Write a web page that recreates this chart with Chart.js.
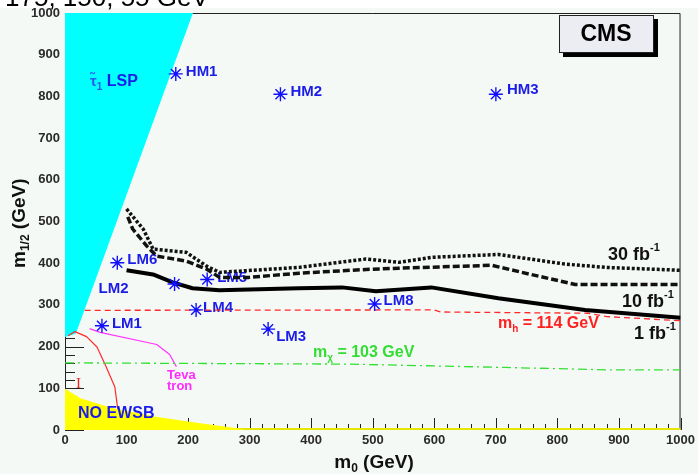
<!DOCTYPE html>
<html><head><meta charset="utf-8">
<script src="https://cdn.jsdelivr.net/npm/chart.js@4/dist/chart.umd.min.js"></script>
<style>html,body{margin:0;padding:0;background:#fff;overflow:hidden}#wrap{width:698px;height:474px;position:relative}</style>
</head><body><div id="wrap"><canvas id="c" width="698" height="474"></canvas></div>
<script>
// ---- data ----
const xTickValues = [0,100,200,300,400,500,600,700,800,900,1000];
const yTickValues = [0,100,200,300,400,500,600,700,800,900,1000];

const stauM0  = [0, 17, 207, 0];
const stauM12 = [224, 232, 1000, 1000];
const noEwsbM0  = [0, 0, 25, 75, 150, 210, 270, 290];
const noEwsbM12 = [0, 98, 75, 52, 30, 17, 5, 0];

const lumi1M0  = [100,143,175,207,251,380,450,505,595,704,845,1000];
const lumi1M12 = [383,373,354,340,335,340,342,333,342,316,288,269];
const lumi10M0  = [102,110,133,149,197,230,251,299,380,489,542,693,757,829,1000];
const lumi10M12 = [511,482,441,417,405,386,366,366,376,385,388,395,373,349,349];
const lumi30M0  = [100,127,143,197,230,251,380,489,542,595,704,812,877,1000];
const lumi30M12 = [530,482,434,426,393,378,390,410,402,414,421,398,390,383];

const higgsM0  = [32,600,610,850,880,1000];
const higgsM12 = [287,288,283,280,272,262];
const charginoM0  = [0,460,715,890,1000];
const charginoM12 = [161,158,150,144,144];
const tevatronM0  = [40,57,149,170,181];
const tevatronM12 = [243,234,205,181,152];
const lepM0  = [5,16,35,52,67,81,86,88];
const lepM12 = [226,236,224,199,151,103,47,0];

const benchNames = ['HM1','HM2','HM3','LM1','LM2','LM3','LM4','LM5','LM6','LM8'];
const benchM0    = [180,350,700,60,178,330,213,231,85,503];
const benchM12   = [854,805,805,250,350,242,288,361,401,302];

// ---- styling for labels (pixel offsets from markers) ----
const benchLabelOffset = {
  HM1:[10,-2], HM2:[10,-2], HM3:[11,-4], LM1:[10,-2], LM2:[-76,5],
  LM3:[8,8], LM4:[7,-2.5], LM5:[10,-2], LM6:[10,-3], LM8:[9,-3]
};
const FONT = '"Liberation Sans", Arial, sans-serif';

function pts(xs, ys){ return xs.map((v,i)=>({x:v, y:ys[i]})); }

function rich(ctx, x, y, parts, align){
  let total = 0;
  parts.forEach(p => { ctx.font = `${p.w||'bold'} ${p.s}px ${FONT}`; p.width = ctx.measureText(p.t).width; total += p.width; });
  if (align === 'center') x -= total/2;
  else if (align === 'right') x -= total;
  ctx.textAlign = 'left';
  parts.forEach(p => {
    ctx.font = `${p.w||'bold'} ${p.s}px ${FONT}`;
    if (p.c) ctx.fillStyle = p.c;
    ctx.fillText(p.t, x, y + (p.dy||0));
    x += p.width;
  });
}

const decor = {
  id: 'decor',
  beforeDraw(chart){
    const c = chart.ctx;
    c.save();
    c.fillStyle = '#f5f9f6'; c.fillRect(0,0,chart.width,chart.height);
    c.fillStyle = '#ffffff'; c.fillRect(0,0,chart.width,8);
    // cut-off title line at the top
    c.fillStyle = '#000'; c.font = `26px ${FONT}`; c.textBaseline = 'alphabetic'; c.textAlign='left';
    c.fillText('175, 150, 55 GeV', 5, 6);
    c.restore();
  },
  beforeDatasetsDraw(chart){
    const {ctx, chartArea:a, scales:{x, y}} = chart;
    ctx.save();
    ctx.strokeStyle = '#222'; ctx.lineWidth = 1;
    ctx.beginPath();
    for (let v = 0; v <= 1000; v += 20){
      const px = Math.round(x.getPixelForValue(v)) + 0.5;
      const len = v % 100 === 0 ? 12 : 6;
      ctx.moveTo(px, a.bottom); ctx.lineTo(px, a.bottom - len);
      const py = Math.round(y.getPixelForValue(v)) + 0.5;
      const ly = v % 100 === 0 ? 19 : 10;
      ctx.moveTo(a.left, py); ctx.lineTo(a.left + ly, py);
    }
    ctx.stroke();
    // frame
    ctx.beginPath();
    ctx.moveTo(a.left+0.5, a.bottom); ctx.lineTo(a.left+0.5, a.top+0.5);
    ctx.lineTo(a.right-0.5, a.top+0.5); ctx.lineTo(a.right-0.5, a.bottom);
    ctx.stroke();
    ctx.strokeStyle = '#e6e600'; ctx.lineWidth = 2;
    ctx.beginPath(); ctx.moveTo(a.left, a.bottom-1); ctx.lineTo(a.right, a.bottom-1); ctx.stroke();
    ctx.restore();
  },
  afterDatasetDraw(chart, args){
    if (chart.data.datasets[args.index].label !== 'NO EWSB') return;
    const {ctx, scales:{x, y}} = chart;
    ctx.save();
    ctx.textBaseline = 'middle';
    const blue = '#1c1ce8';
    benchNames.forEach((n,i) => {
      const o = benchLabelOffset[n];
      ctx.fillStyle = blue; ctx.font = `bold 15px ${FONT}`; ctx.textAlign='left';
      ctx.fillText(n, x.getPixelForValue(benchM0[i]) + o[0], y.getPixelForValue(benchM12[i]) + o[1]);
    });
    ctx.textBaseline = 'alphabetic';
    // stau LSP
    rich(ctx, 90, 86, [{t:'τ̃', s:15, c:'#2a5cf0'},{t:'1', s:10, dy:4, c:'#2a5cf0'},{t:' LSP', s:16, c:blue}]);
    // NO EWSB
    rich(ctx, 78, 418, [{t:'NO EWSB', s:16, c:blue}]);
    // Tevatron
    rich(ctx, 167, 379, [{t:'Teva', s:13, c:'#ff2cff'}]);
    rich(ctx, 167, 390, [{t:'tron', s:13, c:'#ff2cff'}]);
    // luminosity labels
    rich(ctx, 608, 260, [{t:'30 fb', s:18, c:'#111'},{t:'-1', s:11, dy:-9}]);
    rich(ctx, 622, 307, [{t:'10 fb', s:18, c:'#111'},{t:'-1', s:11, dy:-9}]);
    rich(ctx, 634, 339, [{t:'1 fb', s:18, c:'#111'},{t:'-1', s:11, dy:-9}]);
    // higgs & chargino
    rich(ctx, 498, 328, [{t:'m', s:16, c:'#ff2020'},{t:'h', s:10, dy:4},{t:' = 114 GeV', s:16}]);
    rich(ctx, 313, 357, [{t:'m', s:16, c:'#33dd33'},{t:'χ', s:10, dy:4},{t:' = 103 GeV', s:16}]);
    // red I marker
    ctx.fillStyle = '#ee2222'; ctx.font = `15px "Liberation Serif", serif`;
    ctx.fillText('I', 76, 388);
    ctx.restore();
  },
  afterDraw(chart){
    const ctx = chart.ctx;
    ctx.save();
    // CMS box
    ctx.fillStyle = '#000'; ctx.fillRect(563, 19, 95, 38);
    ctx.fillStyle = '#ececf3'; ctx.fillRect(559, 15, 95, 38);
    ctx.strokeStyle = '#222'; ctx.lineWidth = 1; ctx.strokeRect(559.5, 15.5, 94, 37);
    ctx.fillStyle = '#000'; ctx.textBaseline = 'middle'; ctx.textAlign = 'center';
    ctx.font = `bold 23px ${FONT}`; ctx.fillText('CMS', 606, 35);
    ctx.textBaseline = 'alphabetic';
    // axis titles
    rich(ctx, 374, 468, [{t:'m', s:19, c:'#111'},{t:'0', s:12, dy:4},{t:' (GeV)', s:19}], 'center');
    ctx.translate(25, 268); ctx.rotate(-Math.PI/2);
    rich(ctx, 0, 0, [{t:'m', s:19, c:'#111'},{t:'1/2', s:12, dy:4},{t:' (GeV)', s:19}]);
    ctx.restore();
  }
};

const lineBase = {pointRadius:0, tension:0, fill:false, borderJoinStyle:'round'};
const data = {
  datasets: [
    {label:'bench', data: pts(benchM0, benchM12), showLine:false, pointStyle:'star', pointRadius:7, pointHoverRadius:7,
     pointBorderColor:'#1010ff', pointBackgroundColor:'#1010ff', pointBorderWidth:1.4, order:1},
    {label:'30 fb-1', data: pts(lumi30M0, lumi30M12), ...lineBase, borderColor:'#111', borderWidth:3.5, borderDash:[3,2], order:2},
    {label:'10 fb-1', data: pts(lumi10M0, lumi10M12), ...lineBase, borderColor:'#111', borderWidth:3.5, borderDash:[7,3], order:2},
    {label:'1 fb-1', data: pts(lumi1M0, lumi1M12), ...lineBase, borderColor:'#000', borderWidth:4, order:2},
    {label:'mh', data: pts(higgsM0, higgsM12), ...lineBase, borderColor:'#ff2a2a', borderWidth:1.3, borderDash:[6,4], order:2},
    {label:'mchi', data: pts(charginoM0, charginoM12), ...lineBase, borderColor:'#33e033', borderWidth:1.3, borderDash:[9,4,2,4], order:2},
    {label:'Tevatron', data: pts(tevatronM0, tevatronM12), ...lineBase, borderColor:'#ff33ff', borderWidth:1.2, order:2},
    {label:'NO EWSB', data: pts(noEwsbM0, noEwsbM12), ...lineBase, borderColor:'#ffff00', backgroundColor:'#ffff00', borderWidth:1, fill:'shape', order:3},
    {label:'LEP', data: pts(lepM0, lepM12), ...lineBase, borderColor:'#ff2a2a', borderWidth:1.2, order:4},
    {label:'stau LSP', data: pts(stauM0, stauM12), ...lineBase, borderColor:'#00ffff', backgroundColor:'#00ffff', borderWidth:1, fill:'shape', order:5}
  ]
};

const tickFont = {family:'"Liberation Sans", Arial, sans-serif', weight:'bold', size:13};
new Chart(document.getElementById('c'), {
  type: 'line',
  data,
  plugins: [decor],
  options: {
    responsive:false, animation:false, devicePixelRatio:1,
    layout:{padding:{top:13, right:15, left:0, bottom:0}},
    plugins:{legend:{display:false}, tooltip:{enabled:false}},
    events: [],
    scales:{
      x:{type:'linear', min:0, max:1000,
         afterBuildTicks: s => { s.ticks = xTickValues.map(v => ({value:v})); },
         afterFit: s => { s.height = 44; },
         grid:{display:false, drawTicks:false}, border:{display:false},
         ticks:{font:tickFont, color:'#2a2a2a', padding:3, maxRotation:0, autoSkip:false, callback: v => String(v)}},
      y:{type:'linear', min:0, max:1000,
         afterBuildTicks: s => { s.ticks = yTickValues.map(v => ({value:v})); },
         afterFit: s => { s.width = 65; },
         grid:{display:false, drawTicks:false}, border:{display:false},
         ticks:{font:tickFont, color:'#2a2a2a', padding:5, autoSkip:false, callback: v => String(v)}}
    }
  }
});
</script>
</body></html>
